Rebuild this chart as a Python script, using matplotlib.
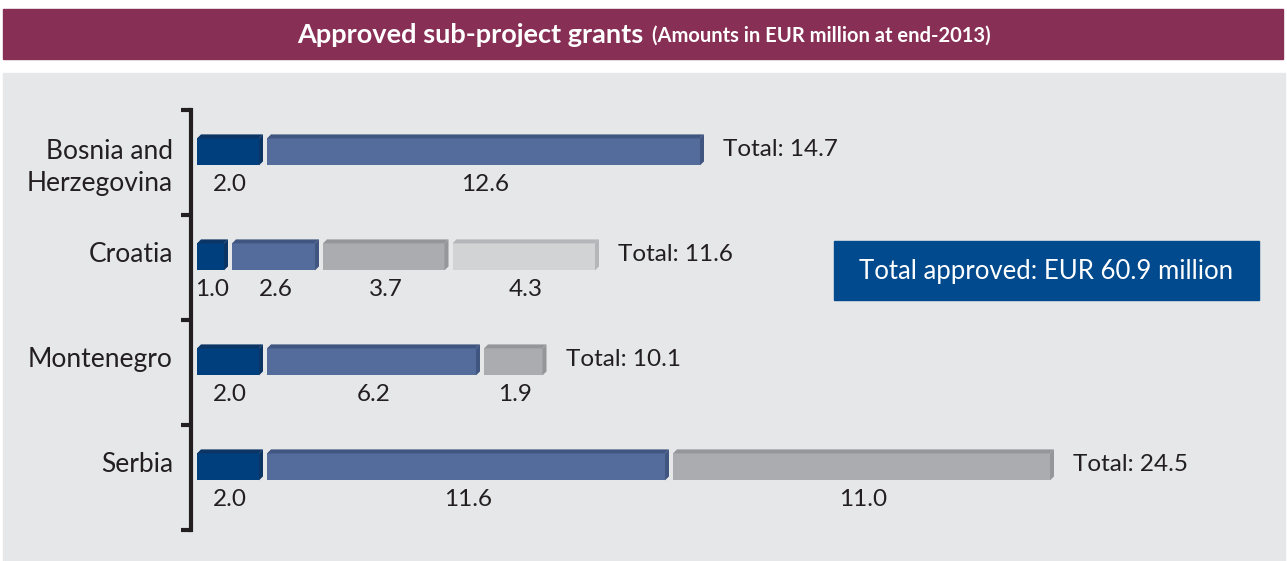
import matplotlib.pyplot as plt
from matplotlib.patches import Rectangle, Polygon
import numpy as np

# data
countries = ["Bosnia and\nHerzegovina", "Croatia", "Montenegro", "Serbia"]
segments = [
    [2.0, 12.6],
    [1.0, 2.6, 3.7, 4.3],
    [2.0, 6.2, 1.9],
    [2.0, 11.6, 11.0],
]
totals = [14.7, 11.6, 10.1, 24.5]
grand_total = "Total approved: EUR 60.9 million"

# colours per segment position: (front, top/side shade)
seg_colors = [
    ("#003f7d", "#0b3565"),
    ("#546c9c", "#40557f"),
    ("#abacaf", "#95969a"),
    ("#d2d3d5", "#b5b6b9"),
]

plt.rcParams['font.family'] = ['Lato', 'DejaVu Sans']
W, H = 1287, 561
fig = plt.figure(figsize=(W / 100, H / 100), dpi=100)
fig.patch.set_facecolor("white")

# header band and grey panel
fig.patches.append(Rectangle((3 / W, 1 - 59 / H), 1280 / W, 50 / H,
                             transform=fig.transFigure, color="#872f55", zorder=0))
fig.patches.append(Rectangle((3 / W, 0), 1282 / W, (561 - 73) / H,
                             transform=fig.transFigure, color="#e6e7e8", zorder=0))

t1 = fig.text(297 / W, 1 - 35 / H, "Approved sub-project grants", color="white",
              fontsize=19.5, fontweight="bold", va="center", ha="left")
fig.canvas.draw()
bb = t1.get_window_extent()
fig.text(bb.x1 / W + 9 / W, 1 - 36 / H, "(Amounts in EUR million at end-2013)",
         color="white", fontsize=14.5, fontweight="bold", va="center", ha="left")

# plotting axes over the panel
px_per_unit = 35.0
ax_left = 197
ax = fig.add_axes([ax_left / W, 4 / H, (1285 - ax_left) / W, (557 - 73) / H])
ax.set_zorder(5)
ax.set_facecolor("none")
ax.set_xlim(0, (1285 - ax_left) / px_per_unit)
band = 105.0
ax.set_ylim((557 - 162.5) / band, (73 - 162.5) / band)

gap = 4 / px_per_unit
dx = 4 / px_per_unit
dy = 4 / band
bar_h = 31 / band
bar_off = -0.12
txt = "#231f20"
fs = 17.5

for i, vals in enumerate(segments):
    yc = i + bar_off
    ytop = yc - bar_h / 2
    ybot = yc + bar_h / 2
    left = 0.0
    for j, v in enumerate(vals):
        front, shade = seg_colors[j]
        x0 = left
        x1 = left + v - gap
        ax.add_patch(Rectangle((x0, ytop + dy), x1 - dx - x0, bar_h - dy,
                               color=front, lw=0, zorder=3))
        ax.add_patch(Polygon([(x0, ytop + dy), (x0 + dx, ytop), (x1, ytop), (x1 - dx, ytop + dy)],
                             closed=True, color=shade, lw=0, zorder=3))
        ax.add_patch(Polygon([(x1 - dx, ytop + dy), (x1, ytop), (x1, ybot - dy), (x1 - dx, ybot)],
                             closed=True, color=shade, lw=0, zorder=3))
        ax.text(left + (v - gap) / 2, i + 0.21, f"{v:.1f}", ha="center", va="center",
                fontsize=fs, color=txt)
        left += v
    ax.text(left + 15 / px_per_unit, yc, f"Total: {totals[i]:.1f}", ha="left", va="center",
            fontsize=fs, color=txt)
    label_y = yc + (0.17 if "\n" in countries[i] else 0)
    ax.text(-24 / px_per_unit, label_y, countries[i], ha="right", va="center",
            fontsize=19, color=txt, linespacing=1.35)

# bracket-style axis
for s in ["top", "right", "bottom"]:
    ax.spines[s].set_visible(False)
ax.spines["left"].set_position(("outward", 4))
ax.spines["left"].set_linewidth(3)
ax.spines["left"].set_color(txt)
ax.spines["left"].set_bounds(-0.5, 3.5)
ax.set_yticks(np.arange(-0.5, 4.0, 1.0))
ax.set_yticklabels([])
ax.tick_params(axis="y", direction="out", length=7, width=3, color=txt)
ax.set_xticks([])

# total box
fig.patches.append(Rectangle((834 / W, 1 - 300 / H), 425 / W, 59 / H,
                             transform=fig.transFigure, color="#004a8d", zorder=2))
fig.text((834 + 425 / 2) / W, 1 - 271 / H, grand_total, color="white",
         fontsize=18.5, ha="center", va="center")

fig.savefig("out.png", dpi=100)
